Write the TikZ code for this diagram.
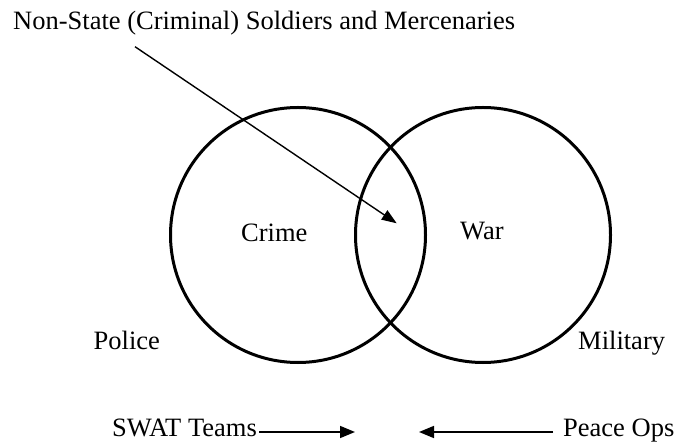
\documentclass[tikz,border=0pt]{standalone}
\usepackage{fontspec}
\setmainfont{Liberation Serif}
\usetikzlibrary{arrows.meta}
\begin{document}
\begin{tikzpicture}[x=1pt,y=-1pt,
  lbl/.style={inner sep=0pt, anchor=base west, font=\fontsize{26.5}{31}\selectfont},
  ring/.style={circle, draw=black, line width=3pt, minimum size=255pt, inner sep=0pt},
  thinarrow/.style={line width=1.4pt, -{Triangle[length=15pt,width=11pt]}},
  botarrow/.style={line width=1.6pt, -{Triangle[length=15pt,width=12pt]}}]
\useasboundingbox (0,0) rectangle (677,443);
\node[ring] (crimec) at (298,235) {};
\node[ring] (warc) at (483,235) {};
\node[lbl] (nonstate) at (13,30) {Non-State (Criminal) Soldiers and Mercenaries};
\node[lbl] (crime) at (241,241.5) {Crime};
\node[lbl] (war) at (460,240) {War};
\node[lbl] (police) at (93.5,350) {Police};
\node[lbl] (military) at (578,350) {Military};
\node[lbl, anchor=base east] (swat) at (257,436) {SWAT Teams};
\node[lbl] (peace) at (563,436) {Peace Ops};
\coordinate (ns1) at (135,46.7);
\coordinate (ns2) at (396.7,223.3);
\coordinate (sw1) at (259,432);
\coordinate (sw2) at (355,432);
\coordinate (po1) at (553,432);
\coordinate (po2) at (419,432);
\draw[thinarrow] (ns1) -- (ns2);
\draw[botarrow] (sw1) -- (sw2);
\draw[botarrow] (po1) -- (po2);
\end{tikzpicture}
\end{document}
